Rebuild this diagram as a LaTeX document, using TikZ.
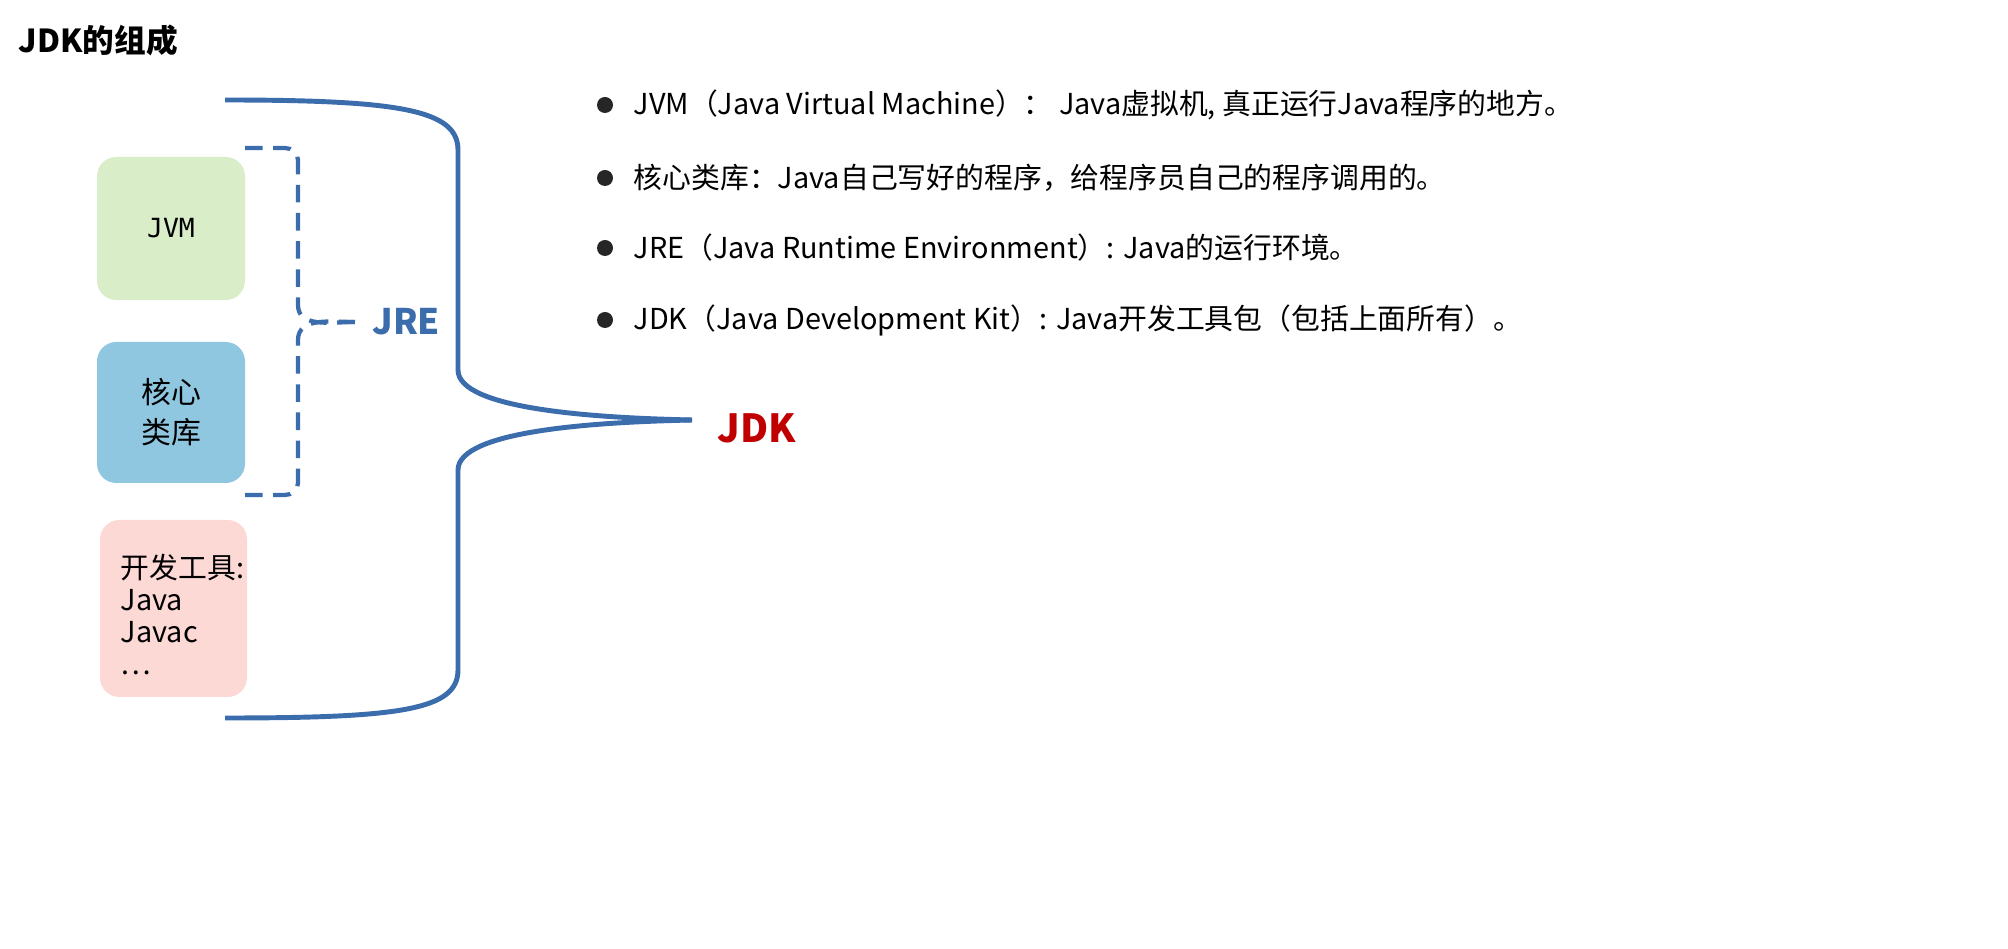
\documentclass[tikz,border=0pt]{standalone}
\usepackage{fontspec}
\setmainfont{Noto Sans CJK SC}
\setmonofont{DejaVu Sans Mono}
\begin{document}
\begin{tikzpicture}[x=0.01cm,y=-0.01cm,
 brace/.style={draw=blueB,line width=1.4pt},
 bx/.style={rounded corners=5.5pt},
 txt/.style={font=\fontsize{8.2}{10}\selectfont,anchor=west,inner sep=0}]
\definecolor{blueB}{HTML}{3B6DAD}
\definecolor{gfill}{HTML}{D9EDC9}
\definecolor{bfill}{HTML}{8FC7E0}
\definecolor{pfill}{HTML}{FCD9D5}
\definecolor{jdkred}{HTML}{C00000}
\useasboundingbox (0,0) rectangle (2008,949);
\fill[white] (0,0) rectangle (2008,949);
\node[txt,font=\fontsize{9}{10}\selectfont\bfseries] (title) at (18,40) {JDK的组成};
\fill[gfill,bx] (97,157) rectangle (245,300);
\node[font=\ttfamily\fontsize{7.5}{10}\selectfont] (jvm) at (171,228) {JVM};
\fill[bfill,bx] (97,342) rectangle (245,483);
\node[font=\fontsize{8.5}{11.5}\selectfont,align=center] (lib) at (171,412) {核心\\类库};
\fill[pfill,bx] (100,520) rectangle (247,697);
\node[font=\fontsize{8.2}{9.1}\selectfont,align=left,anchor=north west,inner sep=0] (dev) at (120,553) {开发工具:\\Java\\Javac\\…};
% JRE dashed bracket
\coordinate (jt) at (245,148);
\coordinate (jb) at (245,495);
\coordinate (jm) at (355,322);
\draw[blueB,line width=1.2pt,dash pattern=on 5pt off 3pt] (jt) -- (285,148) to[out=0,in=90] (298,160) -- (298,305) to[out=-90,in=180] (jm);
\draw[blueB,line width=1.2pt,dash pattern=on 5pt off 3pt] (jb) -- (285,495) to[out=0,in=-90] (298,483) -- (298,340) to[out=90,in=180] (jm);
\node[text=blueB,font=\fontsize{10}{10}\selectfont\bfseries,anchor=west] (jre) at (360,322) {JRE};
% JDK brace
\coordinate (kt) at (225,100);
\coordinate (kb) at (225,718);
\coordinate (km) at (692,420);
\draw[brace] (kt) .. controls (400,100) and (458,110) .. (458,150) -- (458,370) .. controls (458,410) and (600,418) .. (km);
\draw[brace] (kb) .. controls (400,718) and (458,710) .. (458,670) -- (458,470) .. controls (458,430) and (600,422) .. (km);
\node[text=jdkred,font=\fontsize{11}{11}\selectfont\bfseries,anchor=west] (jdk) at (705,428) {JDK};
% bullets
\foreach \y/\t [count=\i] in {105/{JVM（Java Virtual Machine）： Java虚拟机, 真正运行Java程序的地方。},
 178/{核心类库：Java自己写好的程序，给程序员自己的程序调用的。},
 248/{JRE（Java Runtime Environment）: Java的运行环境。},
 320/{JDK（Java Development Kit）: Java开发工具包（包括上面所有）。}}{
 \fill[black!85] (605,\y) circle (8) coordinate (b\i);
 \node[txt] (t\i) at (633,\y) {\t};
}
\end{tikzpicture}
\end{document}
